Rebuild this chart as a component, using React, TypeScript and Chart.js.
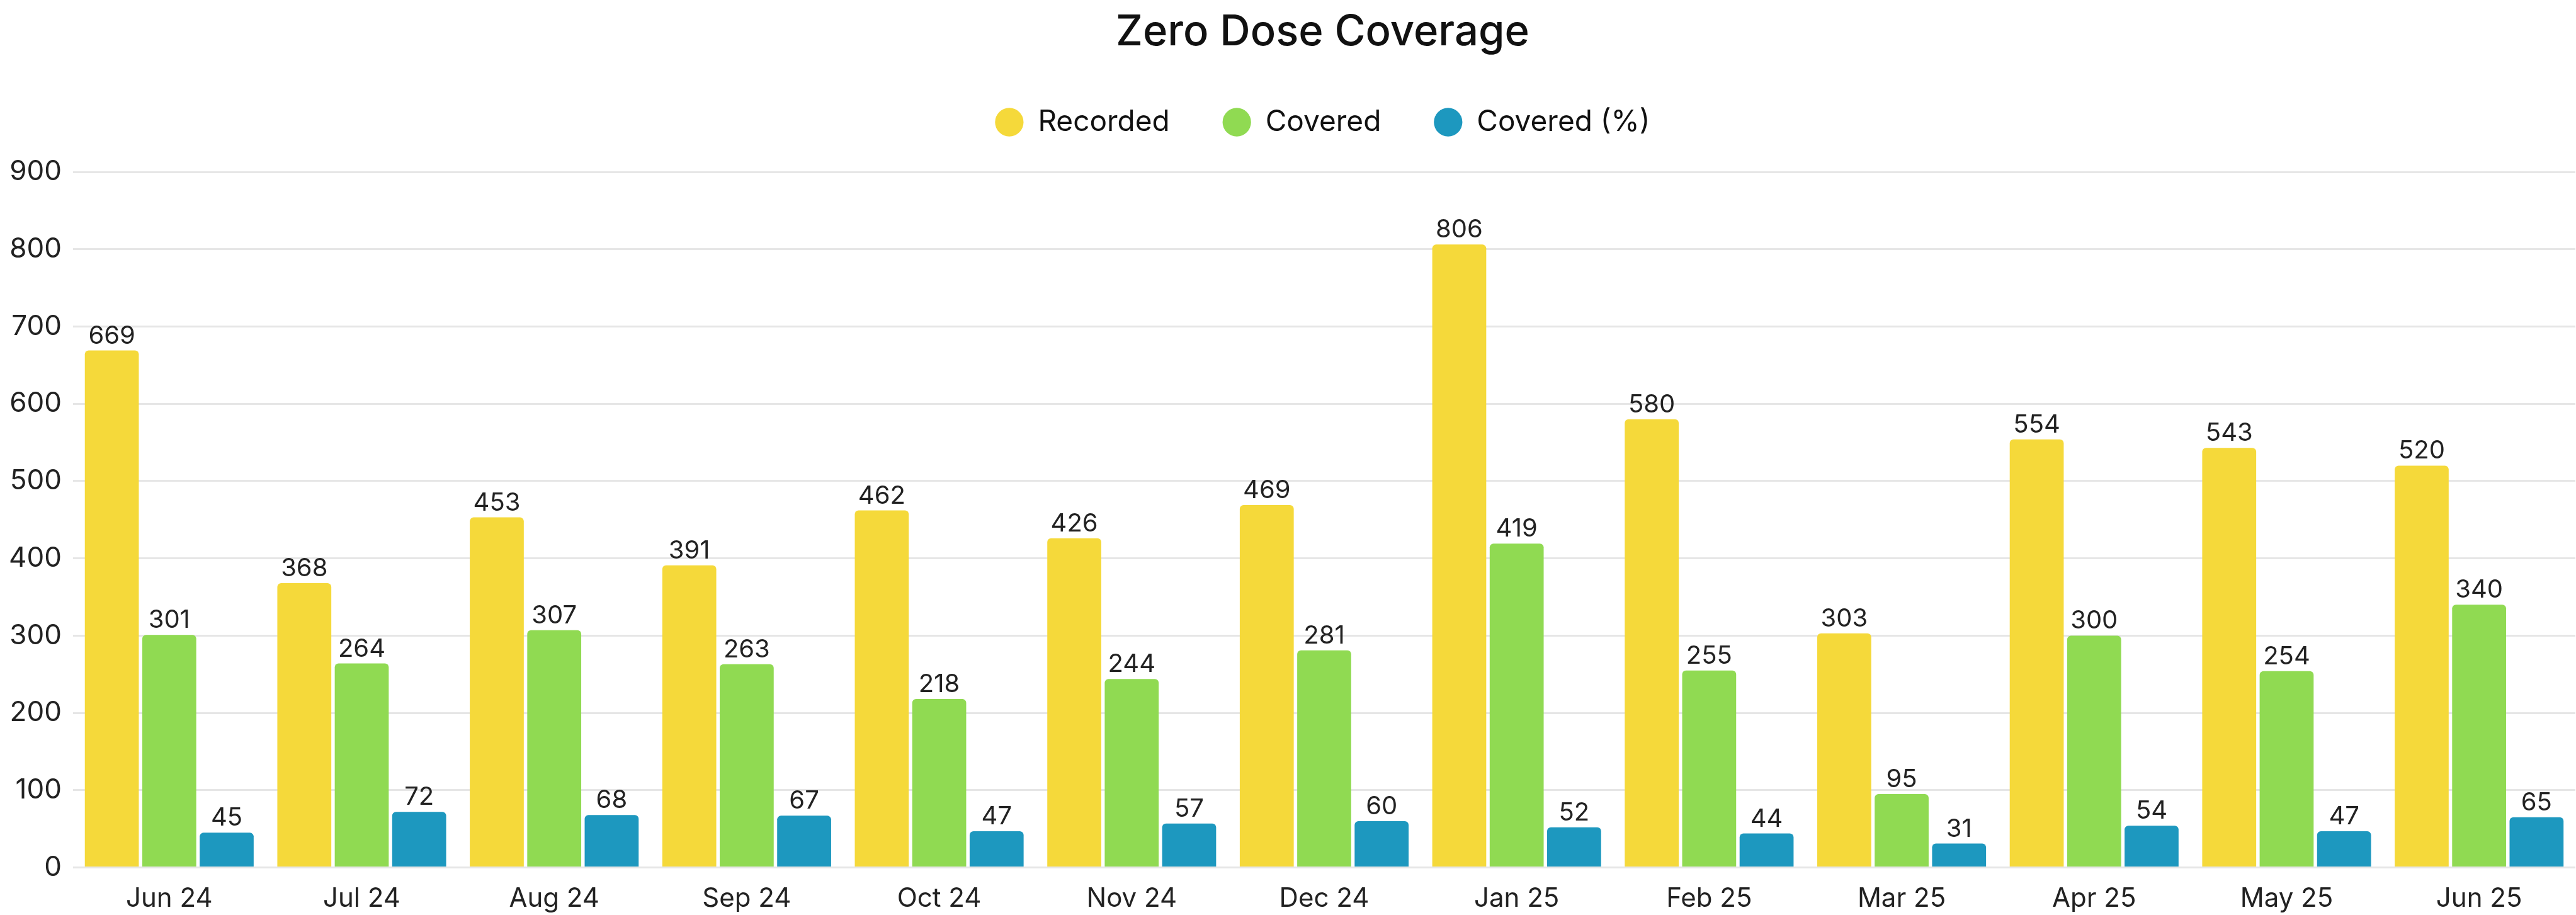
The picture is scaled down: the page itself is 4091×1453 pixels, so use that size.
import React, { useEffect, useRef } from 'react';
import { Chart, registerables } from 'chart.js';

Chart.register(...registerables);

const FONT = "Inter, 'Noto Sans', 'DejaVu Sans', sans-serif";

const chartTitle = 'Zero Dose Coverage';
const months = ['Jun 24', 'Jul 24', 'Aug 24', 'Sep 24', 'Oct 24', 'Nov 24', 'Dec 24', 'Jan 25', 'Feb 25', 'Mar 25', 'Apr 25', 'May 25', 'Jun 25'];
const recorded = [669, 368, 453, 391, 462, 426, 469, 806, 580, 303, 554, 543, 520];
const covered = [301, 264, 307, 263, 218, 244, 281, 419, 255, 95, 300, 254, 340];
const coveredPct = [45, 72, 68, 67, 47, 57, 60, 52, 44, 31, 54, 47, 65];
const seriesLabels = ['Recorded', 'Covered', 'Covered (%)'];
const seriesColors = ['#F5D93A', '#90DA52', '#1D98BF'];
const yMin = 0;
const yMax = 900;
const yStep = 100;

const valueLabels = {
  id: 'valueLabels',
  afterDatasetsDraw(chart: any) {
    const { ctx } = chart;
    ctx.save();
    ctx.font = `400 40px ${FONT}`;
    ctx.fillStyle = '#222222';
    ctx.textAlign = 'center';
    ctx.textBaseline = 'alphabetic';
    chart.data.datasets.forEach((ds: any, i: number) => {
      const meta = chart.getDatasetMeta(i);
      if (meta.hidden) return;
      meta.data.forEach((el: any, j: number) => {
        ctx.fillText(String(ds.data[j]), el.x, el.y - 11);
      });
    });
    ctx.restore();
  },
};

const legendSpacer = {
  id: 'legendSpacer',
  beforeInit(chart: any) {
    const legend = chart.legend;
    if (!legend || legend.__spaced) return;
    const origFit = legend.fit;
    legend.fit = function () {
      origFit.call(this);
      this.height += 46;
    };
    legend.__spaced = true;
  },
};

// centre title and legend over the plot area rather than the whole canvas
const centerOnPlot = {
  id: 'centerOnPlot',
  afterLayout(chart: any) {
    const area = chart.chartArea;
    const shift = (area.left + area.right) / 2 - chart.width / 2;
    [chart.titleBlock, chart.legend].forEach((box: any) => {
      if (!box) return;
      box.left += shift;
      box.right += shift;
    });
  },
};

export default function App() {
  const canvasRef = useRef<HTMLCanvasElement | null>(null);

  useEffect(() => {
    document.body.style.margin = '0';
    const canvas = canvasRef.current;
    if (!canvas) return;
    const data = [recorded, covered, coveredPct];
    const chart = new Chart(canvas, {
      type: 'bar',
      data: {
        labels: months,
        datasets: seriesLabels.map((label, i) => ({
          label,
          data: data[i],
          backgroundColor: seriesColors[i],
          borderWidth: 0,
          borderRadius: 6,
          categoryPercentage: 0.895,
          barPercentage: 0.94,
        })),
      },
      options: {
        animation: false,
        responsive: true,
        maintainAspectRatio: false,
        layout: { padding: { left: -4, right: 1, top: 0, bottom: -25 } },
        plugins: {
          title: {
            display: true,
            text: chartTitle,
            color: '#111111',
            font: { family: FONT, size: 67, weight: '500', lineHeight: 1.0 },
            padding: { top: 18, bottom: 2 },
          },
          legend: {
            display: true,
            position: 'top',
            labels: {
              usePointStyle: true,
              pointStyle: 'circle',
              boxWidth: 45,
              boxHeight: 32,
              padding: 84,
              color: '#111111',
              font: { family: FONT, size: 46, weight: '400' },
            },
          },
          tooltip: { enabled: false },
        },
        scales: {
          x: {
            grid: { display: false, drawTicks: false },
            border: { display: false },
            ticks: {
              color: '#222222',
              padding: 25,
              font: { family: FONT, size: 42, weight: '400' },
            },
          },
          y: {
            min: yMin,
            max: yMax,
            border: { display: false },
            grid: { color: '#e6e6e6', lineWidth: 3, drawTicks: false },
            ticks: {
              stepSize: yStep,
              color: '#222222',
              padding: 18,
              font: { family: FONT, size: 44, weight: '400' },
            },
          },
        },
      },
      plugins: [valueLabels, legendSpacer, centerOnPlot],
    });
    return () => chart.destroy();
  }, []);

  return (
    <div style={{ width: '4091px', height: '1453px', position: 'relative', background: '#ffffff' }}>
      <canvas ref={canvasRef} />
    </div>
  );
}
